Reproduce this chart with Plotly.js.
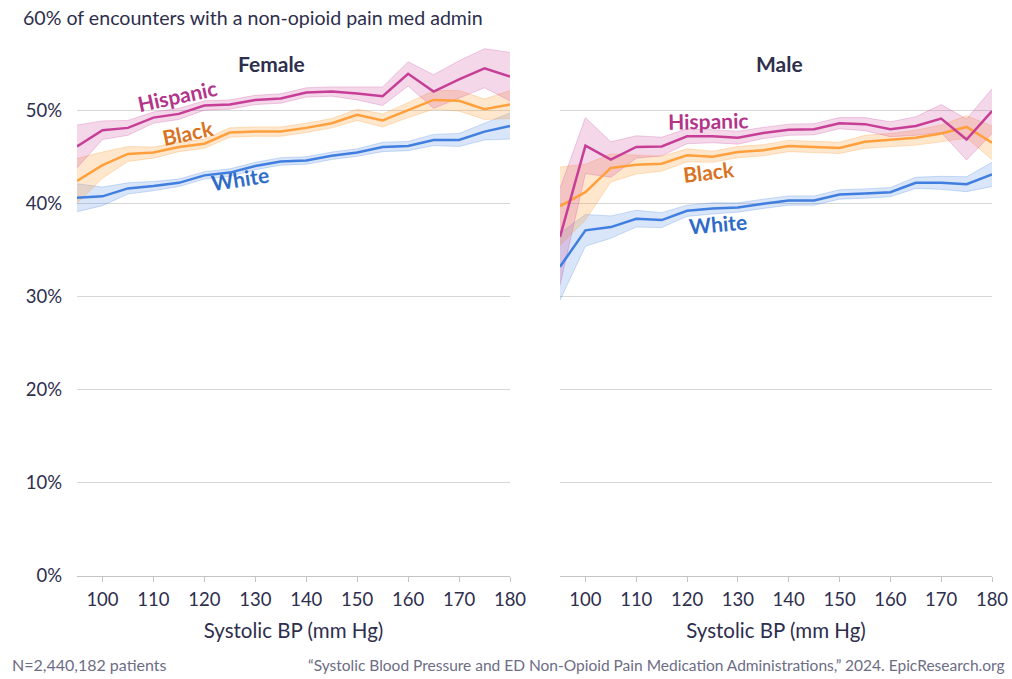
<!DOCTYPE html>
<html>
<head>
<meta charset="utf-8">
<script src="https://cdn.plot.ly/plotly-3.0.1.min.js"></script>
<style>html,body{margin:0;padding:0;background:#fff;}#chart{width:1012px;height:679px;}</style>
</head>
<body>
<div id="chart"></div>
<script>
// Systolic BP (mm Hg)
const sbp = [95,100,105,110,115,120,125,130,135,140,145,150,155,160,165,170,175,180];
const xTicks = [100,110,120,130,140,150,160,170,180];
const yTicks = [0,10,20,30,40,50,60];
const yTickText = ['0%','10%','20%','30%','40%','50%',''];

// Female
const femaleHispanic = [46.1,47.85,48.1,49.2,49.6,50.5,50.6,51.1,51.25,51.9,52.0,51.8,51.5,53.9,52.0,53.3,54.5,53.6];
const femaleHispanicErr = [2.3,1.0,0.8,0.6,0.6,0.5,0.5,0.5,0.5,0.5,0.5,0.7,1.0,1.3,1.8,2.0,2.1,2.6];
const femaleBlack = [42.4,44.1,45.3,45.45,46.05,46.4,47.6,47.7,47.7,48.1,48.6,49.5,48.9,50.0,51.1,51.0,50.1,50.6];
const femaleBlackErr = [2.4,1.4,0.8,0.6,0.5,0.5,0.5,0.5,0.5,0.5,0.5,0.6,0.7,0.8,1.0,1.1,1.1,1.5];
const femaleWhite = [40.6,40.75,41.6,41.85,42.2,43.0,43.3,44.0,44.5,44.6,45.1,45.45,46.05,46.15,46.8,46.8,47.7,48.3];
const femaleWhiteErr = [1.5,1.0,0.6,0.5,0.4,0.4,0.4,0.4,0.4,0.4,0.4,0.4,0.5,0.5,0.6,0.7,0.9,1.4];

// Male
const maleHispanic = [36.4,46.2,44.7,46.05,46.1,47.2,47.2,47.05,47.55,47.9,47.95,48.6,48.5,47.95,48.3,49.1,46.85,49.9];
const maleHispanicErr = [5.2,3.0,1.9,1.2,1.0,0.8,0.7,0.7,0.6,0.6,0.6,0.6,0.7,0.8,1.0,1.5,2.2,2.4];
const maleBlack = [39.7,41.2,43.8,44.15,44.25,45.15,45.0,45.5,45.7,46.15,46.05,45.95,46.6,46.8,47.05,47.5,48.2,46.5];
const maleBlackErr = [4.2,3.0,1.5,1.0,0.8,0.7,0.6,0.6,0.6,0.6,0.6,0.6,0.7,0.7,0.8,0.9,1.2,1.8];
const maleWhite = [33.2,37.1,37.45,38.35,38.2,39.2,39.45,39.55,39.95,40.3,40.3,40.95,41.05,41.2,42.2,42.2,42.05,43.1];
const maleWhiteErr = [3.6,1.7,1.2,0.9,0.8,0.6,0.6,0.5,0.5,0.5,0.5,0.5,0.5,0.5,0.6,0.7,0.8,1.3];

const lineColor = {Hispanic:'rgb(199,62,150)', Black:'rgb(255,160,60)', White:'rgb(64,126,224)'};
const bandFill = {Hispanic:'rgba(199,62,150,0.2)', Black:'rgba(255,160,60,0.25)', White:'rgba(64,126,224,0.2)'};
const bandEdge = {Hispanic:'rgba(199,62,150,0.25)', Black:'rgba(255,160,60,0.3)', White:'rgba(64,126,224,0.25)'};
const labelColor = {Hispanic:'#b3358a', Black:'#d9731f', White:'#2f6cc9'};

const panels = [
  {xa:'x', ya:'y', series:{Hispanic:[femaleHispanic,femaleHispanicErr], Black:[femaleBlack,femaleBlackErr], White:[femaleWhite,femaleWhiteErr]}},
  {xa:'x2', ya:'y2', series:{Hispanic:[maleHispanic,maleHispanicErr], Black:[maleBlack,maleBlackErr], White:[maleWhite,maleWhiteErr]}}
];

const bands = [], lines = [];
panels.forEach(p => {
  ['White','Black','Hispanic'].forEach(g => {
    const [v, e] = p.series[g];
    const lo = v.map((d,i) => d - e[i]);
    const hi = v.map((d,i) => d + e[i]);
    bands.push({x:sbp, y:lo, xaxis:p.xa, yaxis:p.ya, mode:'lines', line:{color:bandEdge[g], width:1}, hoverinfo:'skip', showlegend:false});
    bands.push({x:sbp, y:hi, xaxis:p.xa, yaxis:p.ya, mode:'lines', line:{color:bandEdge[g], width:1}, fill:'tonexty', fillcolor:bandFill[g], hoverinfo:'skip', showlegend:false});
    lines.push({x:sbp, y:v, xaxis:p.xa, yaxis:p.ya, mode:'lines', name:g, line:{color:lineColor[g], width:2.5}, showlegend:false});
  });
});

const font = 'Lato, "Open Sans", sans-serif';
const textCol = '#2e2e4d';
const xaxisBase = {
  range:[95,180], tickvals:xTicks, ticks:'outside', ticklen:5, tickcolor:'#c4c4c4',
  showline:true, linecolor:'#c4c4c4', linewidth:1, showgrid:false, zeroline:false,
  tickfont:{family:font, size:18.5, color:textCol}, ticklabelstandoff:2,
  title:{text:'Systolic BP (mm Hg)', font:{family:font, size:20.5, color:textCol}, standoff:14}
};
const yaxisBase = {
  range:[0,60], tickvals:yTicks, ticktext:yTickText, showgrid:true, gridcolor:'#d6d6d6', gridwidth:1,
  zeroline:false, showline:false, ticks:'', tickfont:{family:font, size:18.5, color:textCol}, ticklabelstandoff:14
};

const labels = [
  {xref:'x', yref:'y', x:114.7, y:51.6, text:'Hispanic', angle:-12, g:'Hispanic'},
  {xref:'x', yref:'y', x:116.7, y:47.65, text:'Black', angle:-12, g:'Black'},
  {xref:'x', yref:'y', x:126.9, y:42.7, text:'White', angle:-9, g:'White'},
  {xref:'x2', yref:'y2', x:124.2, y:48.9, text:'Hispanic', angle:-1, g:'Hispanic'},
  {xref:'x2', yref:'y2', x:124.3, y:43.4, text:'Black', angle:-7, g:'Black'},
  {xref:'x2', yref:'y2', x:126.0, y:37.8, text:'White', angle:-5, g:'White'}
];

const annotations = labels.map(l => ({
  xref:l.xref, yref:l.yref, x:l.x, y:l.y, text:'<b>'+l.text+'</b>', textangle:l.angle, showarrow:false,
  font:{family:font, size:21, color:labelColor[l.g]}
}));

annotations.push(
  {xref:'x', yref:'y', x:133.2, y:55, text:'<b>Female</b>', showarrow:false, font:{family:font, size:21, color:textCol}},
  {xref:'x2', yref:'y2', x:138.2, y:55, text:'<b>Male</b>', showarrow:false, font:{family:font, size:21, color:textCol}},
  {xref:'paper', yref:'y', x:20/1012, y:60, xanchor:'left', yanchor:'middle', text:'60% of encounters with a non-opioid pain med admin',
   showarrow:false, bgcolor:'#ffffff', borderpad:2, font:{family:font, size:19.6, color:textCol}},
  {xref:'paper', yref:'paper', x:10/1012, y:-0.159, xanchor:'left', yanchor:'middle', text:'N=2,440,182 patients',
   showarrow:false, font:{family:font, size:16, color:'#6d6d85'}},
  {xref:'paper', yref:'paper', x:306/1012, y:-0.159, xanchor:'left', yanchor:'middle',
   text:'\u201CSystolic Blood Pressure and ED Non-Opioid Pain Medication Administrations,\u201D 2024. EpicResearch.org',
   showarrow:false, font:{family:font, size:15.5, color:'#6d6d85'}}
);

const layout = {
  width:1012, height:679,
  margin:{l:0, r:0, t:17, b:103},
  paper_bgcolor:'#ffffff', plot_bgcolor:'#ffffff',
  showlegend:false,
  xaxis:Object.assign({}, xaxisBase, {domain:[77/1012, 510/1012], anchor:'y'}),
  xaxis2:Object.assign({}, xaxisBase, {domain:[560/1012, 992/1012], anchor:'y2'}),
  yaxis:Object.assign({}, yaxisBase, {anchor:'x'}),
  yaxis2:Object.assign({}, yaxisBase, {anchor:'x2', showticklabels:false}),
  annotations:annotations,
  font:{family:font, color:textCol}
};

Plotly.newPlot('chart', bands.concat(lines), layout, {displayModeBar:false, staticPlot:true});
</script>
</body>
</html>
